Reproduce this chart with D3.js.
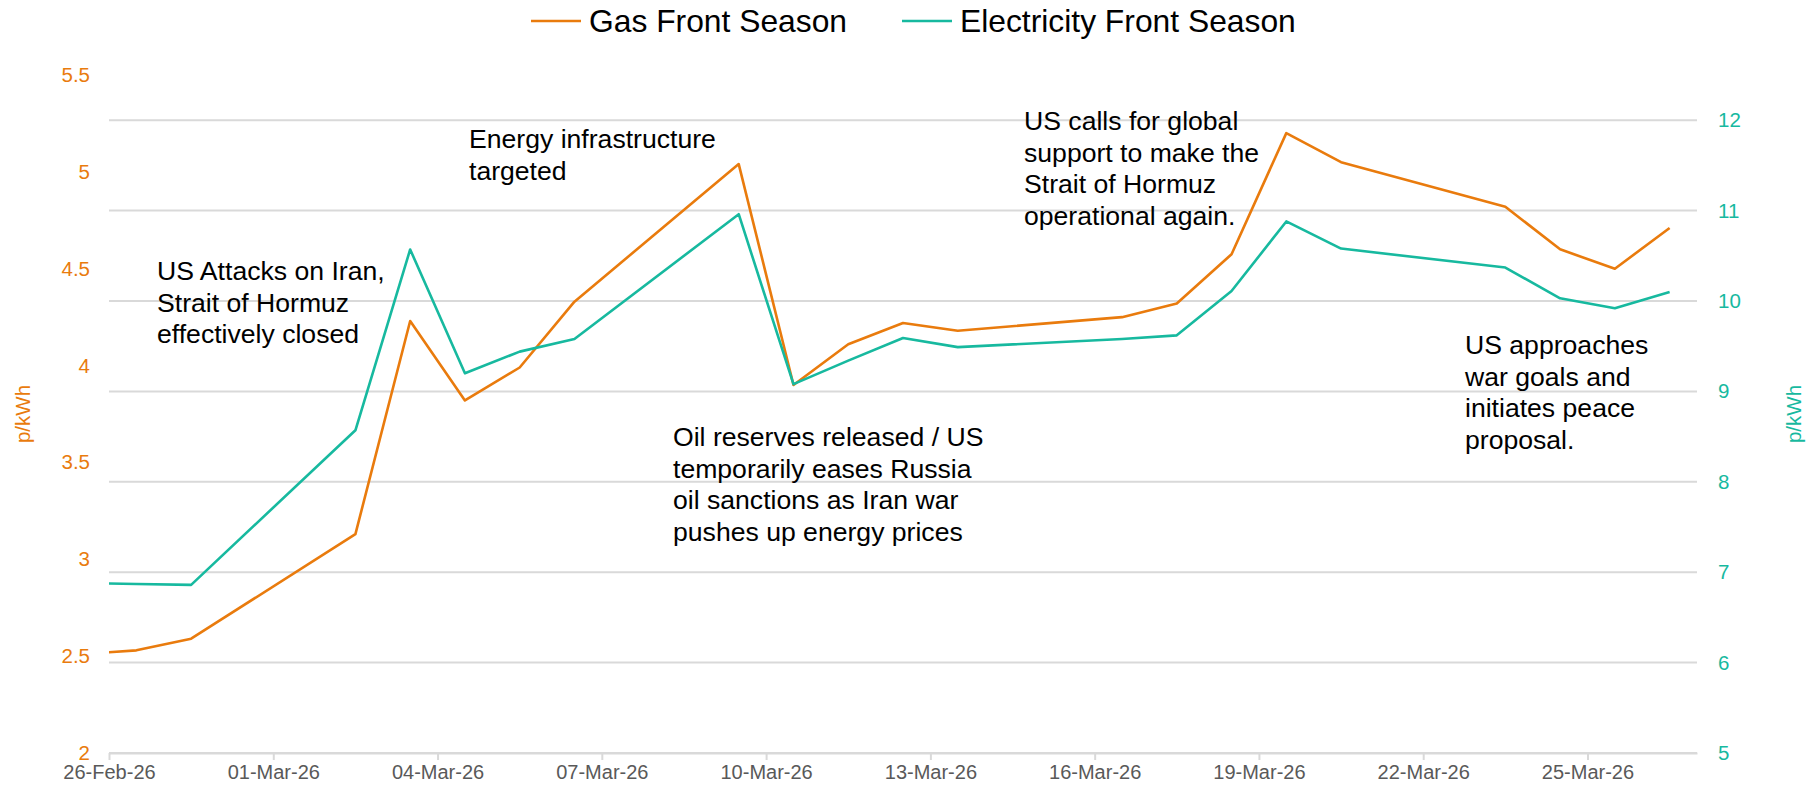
<!DOCTYPE html>
<html>
<head>
<meta charset="utf-8">
<script src="https://cdn.jsdelivr.net/npm/d3@7"></script>
<style>
  body { margin: 0; background: #fff; }
  svg { font-family: "Liberation Sans", Arial, sans-serif; }
</style>
</head>
<body>
<div id="chart"></div>
<script>
// trading days (first one falls just before the axis start and gets clipped)
var dates = ["2026-02-25","2026-02-26","2026-02-27","2026-03-02","2026-03-03","2026-03-04","2026-03-05","2026-03-06",
    "2026-03-09","2026-03-10","2026-03-11","2026-03-12","2026-03-13","2026-03-16","2026-03-17","2026-03-18",
    "2026-03-19","2026-03-20","2026-03-23","2026-03-24","2026-03-25","2026-03-26"];
// p/kWh, left axis
var gas = [2.51, 2.53, 2.59, 3.13, 4.23, 3.82, 3.99, 4.33, 5.04, 3.90, 4.11, 4.22, 4.18, 4.25, 4.32, 4.575,
    5.20, 5.05, 4.82, 4.60, 4.50, 4.71];
// p/kWh, right axis
var elec = [6.88, 6.87, 6.86, 8.57, 10.57, 9.20, 9.44, 9.58, 10.96, 9.08, 9.34, 9.59, 9.49, 9.58, 9.62, 10.11,
    10.88, 10.58, 10.37, 10.03, 9.92, 10.10];
var seriesNames = ["Gas Front Season", "Electricity Front Season"];
var leftTicks = [2, 2.5, 3, 3.5, 4, 4.5, 5, 5.5];
var rightTicks = [5, 6, 7, 8, 9, 10, 11, 12];
var xStart = "2026-02-26", xEnd = "2026-03-27";

var notes = [
    {lines: ["US Attacks on Iran,", "Strait of Hormuz", "effectively closed"], x: 157, y: 271},
    {lines: ["Energy infrastructure", "targeted"], x: 469, y: 139},
    {lines: ["Oil reserves released / US", "temporarily eases Russia", "oil sanctions as Iran war", "pushes up energy prices"], x: 673, y: 437},
    {lines: ["US calls for global", "support to make the", "Strait of Hormuz", "operational again."], x: 1024, y: 121},
    {lines: ["US approaches", "war goals and", "initiates peace", "proposal."], x: 1465, y: 345}
];

var orange = "#E97B0D", teal = "#17B99F";

var W = 1816, H = 787;
var margin = {t: 75, r: 119, b: 34, l: 109};
var width = W - margin.l - margin.r,
    height = H - margin.t - margin.b;

var svg = d3.select("#chart").append("svg").attr("width", W).attr("height", H);

var parse = d3.timeParse("%Y-%m-%d");
var data = dates.map(function(d, i){
    // points sit in the middle of their day
    return {date: d3.timeHour.offset(parse(d), 12), gas: gas[i], elec: elec[i]};
});

var x = d3.scaleTime().domain([parse(xStart), parse(xEnd)]).range([0, width]);
var yL = d3.scaleLinear().domain([2, 5.5]).range([height, 0]);
var yR = d3.scaleLinear().domain([5, 12.5]).range([height, 0]);

var g = svg.append("g").attr("transform", "translate(" + margin.l + "," + margin.t + ")");

svg.append("defs").append("clipPath").attr("id", "clip")
    .append("rect").attr("x", 0).attr("y", -10).attr("width", width).attr("height", height + 20);

// gridlines follow the right axis
g.append("g").attr("class", "grid")
    .selectAll("line").data(rightTicks).enter().append("line")
    .attr("x1", 0).attr("x2", width)
    .attr("y1", function(d){ return yR(d); }).attr("y2", function(d){ return yR(d); })
    .attr("stroke", "#d9d9d9").attr("stroke-width", 2);

// x axis
var xTicks = d3.timeDay.range(parse(xStart), parse(xEnd), 3);
var xAxis = d3.axisBottom(x).tickValues(xTicks).tickFormat(d3.timeFormat("%d-%b-%y"))
    .tickSizeInner(7).tickSizeOuter(0).tickPadding(5);
var gx = g.append("g").attr("transform", "translate(0," + height + ")").call(xAxis);
gx.select(".domain").attr("stroke", "#d9d9d9").attr("stroke-width", 2);
gx.selectAll(".tick line").attr("stroke", "#d9d9d9").attr("stroke-width", 2);
gx.selectAll("text").attr("fill", "#595959").style("font-size", "20px");

// left axis
var gl = g.append("g").call(d3.axisLeft(yL).tickValues(leftTicks).tickFormat(d3.format("")).tickSize(0).tickPadding(19));
gl.select(".domain").remove();
gl.selectAll("text").attr("fill", orange).style("font-size", "20.5px");

// right axis
var gr = g.append("g").attr("transform", "translate(" + width + ",0)")
    .call(d3.axisRight(yR).tickValues(rightTicks).tickSize(0).tickPadding(21));
gr.select(".domain").remove();
gr.selectAll("text").attr("fill", teal).style("font-size", "20.5px");

// axis titles
svg.append("text").attr("transform", "translate(22," + (margin.t + height / 2) + ") rotate(-90)")
    .attr("text-anchor", "middle").attr("dominant-baseline", "central")
    .attr("fill", orange).style("font-size", "20.5px").text("p/kWh");
svg.append("text").attr("transform", "translate(1793," + (margin.t + height / 2) + ") rotate(-90)")
    .attr("text-anchor", "middle").attr("dominant-baseline", "central")
    .attr("fill", teal).style("font-size", "20.5px").text("p/kWh");

// lines
var lineGas = d3.line().x(function(d){ return x(d.date); }).y(function(d){ return yL(d.gas); });
var lineElec = d3.line().x(function(d){ return x(d.date); }).y(function(d){ return yR(d.elec); });

var lines = g.append("g").attr("clip-path", "url(#clip)");
lines.append("path").datum(data).attr("d", lineGas)
    .attr("fill", "none").attr("stroke", orange).attr("stroke-width", 2.6).attr("stroke-linejoin", "round");
lines.append("path").datum(data).attr("d", lineElec)
    .attr("fill", "none").attr("stroke", teal).attr("stroke-width", 2.6).attr("stroke-linejoin", "round");

// legend
var legend = svg.append("g");
[{name: seriesNames[0], color: orange, x: 531}, {name: seriesNames[1], color: teal, x: 902}].forEach(function(l){
    legend.append("line").attr("x1", l.x).attr("x2", l.x + 50).attr("y1", 21).attr("y2", 21)
        .attr("stroke", l.color).attr("stroke-width", 2.6);
    legend.append("text").attr("x", l.x + 58).attr("y", 21).attr("dominant-baseline", "central")
        .attr("fill", "#000").style("font-size", "31.8px").text(l.name);
});

// annotations
var ann = svg.append("g");
notes.forEach(function(n){
    n.lines.forEach(function(t, i){
        ann.append("text").attr("x", n.x).attr("y", n.y + i * 31.7).attr("dominant-baseline", "central")
            .attr("fill", "#000").style("font-size", "26.6px").text(t);
    });
});
</script>
</body>
</html>
